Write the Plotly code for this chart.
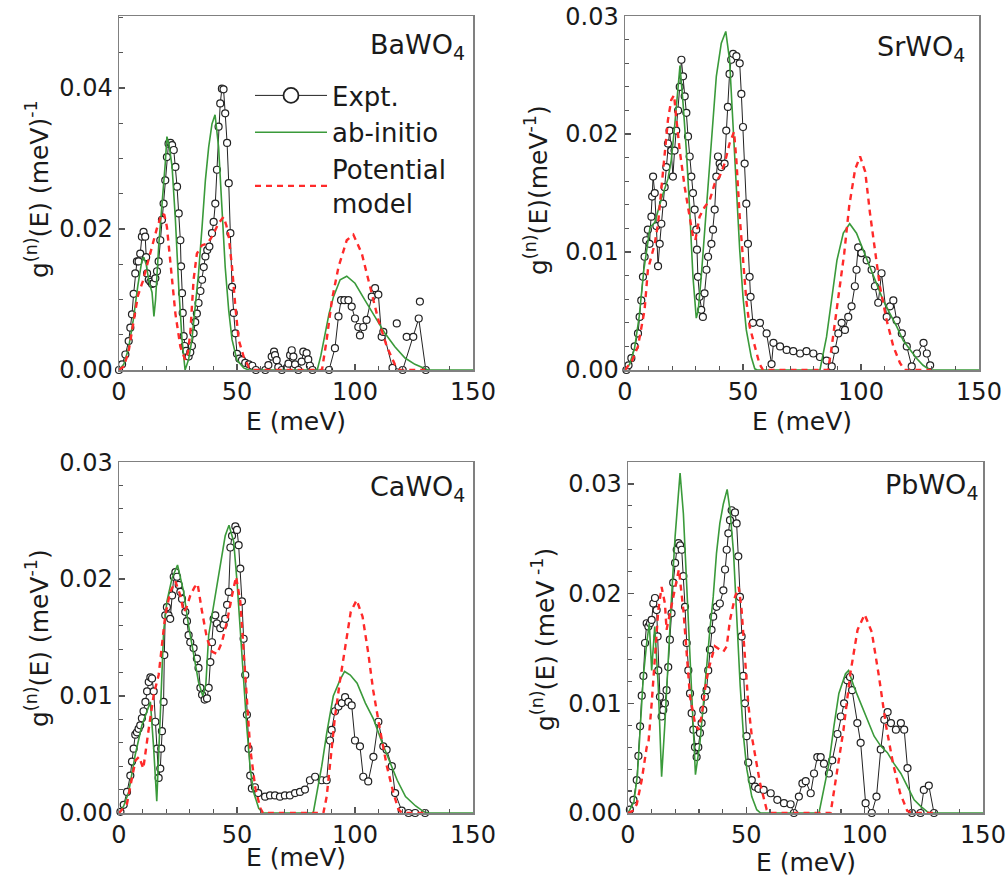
import plotly.graph_objects as go

# ---------------- data (E in meV, g in 1/meV) ----------------
ba_expt_E = [0, 1.3, 2.7, 4.1, 4.8, 5.5, 6.2, 6.9, 7.6, 8.3, 9.0, 9.7, 10.4, 11.1, 11.5, 11.9, 12.6, 13.3, 14.0, 14.7,
             15.4, 16.1, 16.8, 17.5, 18.2, 18.9, 19.6, 20.3, 21.0, 21.8, 22.5, 23.2, 23.9, 24.6, 25.3, 26.0, 26.3, 26.7,
             27.0, 27.4, 27.8, 28.4, 29.5, 30.2, 30.9, 31.6, 32.3, 33.0, 33.7, 34.5, 35.2, 35.9, 36.6, 37.4, 38.3, 39.4,
             40.1, 40.8, 41.5, 42.2, 42.9, 43.6, 44.3, 45.0, 45.8, 46.5, 47.2, 47.9, 48.6, 49.3, 50.0, 51.0, 52.1, 53.5,
             55.0, 56.5, 58, 62, 63.3, 64.7, 65.7, 66.1, 66.8, 67.5, 69, 71.1, 71.8, 72.5, 73.2, 73.9, 74.6, 76, 77.4,
             78.1, 79.5, 80.2, 80.9, 82, 89, 91.5, 93.0, 94.1, 95.5, 97.2, 98.6, 100.0, 101.4, 102.1, 103.5, 104.9,
             107.1, 108.5, 109.9, 111.3, 112.0, 115.9, 120.2, 127.0, 130.0]
ba_expt_g = [0, 0.0008, 0.0022, 0.0041, 0.0060, 0.0079, 0.0108, 0.0137, 0.0154, 0.0154, 0.0165, 0.0189, 0.0196, 0.0189,
             0.0160, 0.0137, 0.0128, 0.0125, 0.0122, 0.0123, 0.0130, 0.0140, 0.0154, 0.0184, 0.0213, 0.0236, 0.0269,
             0.0302, 0.0321, 0.0322, 0.0319, 0.0312, 0.0288, 0.0260, 0.0222, 0.0184, 0.0147, 0.0109, 0.0081, 0.0048,
             0.0034, 0.0027, 0.0019, 0.0025, 0.0034, 0.0052, 0.0068, 0.0080, 0.0095, 0.0112, 0.0128, 0.0146, 0.0161,
             0.0170, 0.0175, 0.0194, 0.0210, 0.0236, 0.0284, 0.0345, 0.0378, 0.0399, 0.0398, 0.0364, 0.0322, 0.0265,
             0.0194, 0.0118, 0.0081, 0.0052, 0.0023, 0.0016, 0.0014, 0.0010, 0.0008, 0.0006, 0, 0, 0.0007, 0.0019,
             0.0026, 0.0021, 0.0014, 0.0004, 0, 0.0003, 0.0009, 0.0021, 0.0028, 0.0019, 0.0008, 0, 0.0012, 0.0026,
             0.0024, 0.0015, 0.0006, 0, 0, 0.0031, 0.0076, 0.0099, 0.0099, 0.0099, 0.0090, 0.0073, 0.0061, 0.0049,
             0.0061, 0.0071, 0.0104, 0.0116, 0.0107, 0.0047, 0.0054, 0.0003, 0, 0.0073, 0]
ba_extra_E = [117.7, 121.9, 124.7, 127.5]
ba_extra_g = [0.0066, 0.0047, 0.0047, 0.0097]
ba_ab_E = [0, 2, 4, 6, 8, 9.7, 10.5, 11.5, 12.6, 14.0, 14.8, 15.5, 16.8, 18.2, 19.6, 20.3, 21.2, 22.5, 23.9, 25.3,
           26.7, 28.0, 29.5, 30.9, 32.3, 33.7, 35.2, 36.6, 38.0, 39.4, 40.7, 42.2, 43.6, 45.0, 46.5, 47.9, 50.0, 52.8,
           55, 84, 85.5, 87.3, 89, 90.9, 93.7, 96.5, 100, 104.2, 108.5, 112.7, 116.9, 121.2, 125.4, 129.7, 131, 150]
ba_ab_g = [0, 0.0008, 0.0030, 0.0070, 0.0120, 0.0155, 0.0160, 0.0150, 0.0127, 0.0110, 0.0076, 0.0100, 0.0175, 0.0231,
           0.0293, 0.0331, 0.0320, 0.0288, 0.0213, 0.0118, 0.0043, 0.0, 0.0015, 0.0043, 0.0090, 0.0137, 0.0203,
           0.0269, 0.0316, 0.0349, 0.0362, 0.0316, 0.0231, 0.0146, 0.0084, 0.0043, 0.0014, 0.0003, 0, 0, 0.0020,
           0.0052, 0.0080, 0.0104, 0.0128, 0.0133, 0.0123, 0.0099, 0.0076, 0.0052, 0.0033, 0.0017, 0.0008, 0.0001, 0, 0]
ba_pm_E = [0, 2, 4, 6, 8, 10, 12, 14, 16, 18.1, 19.2, 20.3, 21.8, 23.9, 26.0, 28.1, 29.2, 30.2, 31.6, 33.0, 35.2, 37.3,
           39.4, 42.2, 44.3, 45.5, 46.5, 47.9, 49.3, 50.7, 52.8, 55, 57, 86, 88, 90.2, 93, 96.5, 99.3, 102.9, 106.4,
           109.9, 113.5, 117, 119, 130]
ba_pm_g = [0, 0.0005, 0.0025, 0.0065, 0.0105, 0.0125, 0.0150, 0.0175, 0.0200, 0.0222, 0.0220, 0.0203, 0.0151, 0.0080,
           0.0033, 0.0014, 0.0025, 0.0052, 0.0128, 0.0165, 0.0177, 0.0179, 0.0189, 0.0208, 0.0217, 0.0205, 0.0189,
           0.0146, 0.0090, 0.0043, 0.0019, 0.0004, 0, 0, 0.0043, 0.0099, 0.0146, 0.0184, 0.0192, 0.0165, 0.0118,
           0.0071, 0.0033, 0.0007, 0, 0]

sr_expt_E = [0.6, 1.5, 2.7, 4.1, 5.5, 6.2, 6.9, 7.6, 8.3, 9.0, 9.7, 10.4, 11.2, 11.5, 11.9, 12.6, 13.3, 14.0, 14.7, 15.4,
             16.1, 16.8, 17.5, 18.2, 18.9, 19.6, 20.3, 21.0, 21.7, 22.5, 23.2, 23.9, 24.6, 25.3, 26.0, 26.7, 27.4, 28.1,
             28.8, 29.5, 30.2, 30.5, 30.9, 31.6, 32.3, 33.0, 33.7, 34.5, 35.2, 36.6, 37.3, 38.0, 38.7, 39.4, 40.1, 40.8,
             42.2, 42.9, 43.6, 44.3, 45.0, 45.8, 47.2, 48.6, 49.3, 50.0, 50.7, 51.4, 52.1, 52.8, 53.2, 54.2, 57.2, 60.0,
             62.1, 62.9, 65.7, 68.5, 71.3, 74.2, 76.9, 79.8, 82.6, 85.4, 87.6, 89.0, 90.4, 91.8, 93.2, 94.6, 96.0, 97.4,
             98.1, 98.8, 100.2, 102.4, 104.5, 105.9, 107.3, 108.7, 110.9, 112.3, 113.7, 115.1, 117.3, 119.4, 121.5,
             123.7, 126.5, 127.9, 129.3]
sr_expt_g = [0, 0.0004, 0.0010, 0.0020, 0.0031, 0.0045, 0.0059, 0.0079, 0.0096, 0.0110, 0.0119, 0.0107, 0.0130, 0.0147,
             0.0164, 0.0150, 0.0122, 0.0088, 0.0107, 0.0124, 0.0141, 0.0155, 0.0172, 0.0192, 0.0203, 0.0186, 0.0164,
             0.0186, 0.0203, 0.0220, 0.0240, 0.0263, 0.0249, 0.0232, 0.0218, 0.0198, 0.0181, 0.0164, 0.0150, 0.0136,
             0.0119, 0.0102, 0.0079, 0.0062, 0.0051, 0.0045, 0.0065, 0.0085, 0.0096, 0.0107, 0.0119, 0.0136, 0.0164,
             0.0181, 0.0175, 0.0172, 0.0175, 0.0203, 0.0223, 0.0251, 0.0263, 0.0268, 0.0266, 0.0260, 0.0234, 0.0206,
             0.0175, 0.0141, 0.0107, 0.0079, 0.0062, 0.0040, 0.0040, 0.0031, 0.0005, 0.0023, 0.0020, 0.0017, 0.0016,
             0.0014, 0.0016, 0.0014, 0.0011, 0.0008, 0.0003, 0.0017, 0.0031, 0.0040, 0.0034, 0.0045, 0.0054, 0.0071,
             0.0085, 0.0104, 0.0099, 0.0093, 0.0085, 0.0071, 0.0057, 0.0082, 0.0045, 0.0054, 0.0059, 0.0042, 0.0031,
             0.0020, 0.0003, 0.0014, 0.0023, 0.0014, 0.0004]
sr_ab_E = [0, 2, 4, 6, 8, 10.6, 12.6, 15.4, 18.2, 19.6, 21.0, 22.5, 23.3, 24.6, 26.0, 27.4, 28.8, 30.2, 31.0, 32.3, 34.5,
           36.6, 38.7, 40.8, 42.7, 44.3, 45.8, 47.2, 48.6, 50.0, 51.4, 53.5, 55.0, 56, 82.6, 85.4, 87.6, 89.8, 92.5,
           95.2, 98.1, 100.9, 103.7, 106.6, 109.4, 112.2, 115.1, 117.9, 120.7, 123.5, 126.3, 129.2, 150]
sr_ab_g = [0, 0.0005, 0.0018, 0.0045, 0.0085, 0.0121, 0.0125, 0.0145, 0.0162, 0.0178, 0.0206, 0.0240, 0.0258, 0.0226,
           0.0186, 0.0136, 0.0079, 0.0044, 0.0050, 0.0079, 0.0136, 0.0198, 0.0249, 0.0277, 0.0287, 0.0263, 0.0206,
           0.0150, 0.0102, 0.0062, 0.0034, 0.0011, 0.0001, 0, 0, 0.0028, 0.0062, 0.0093, 0.0116, 0.0124, 0.0116,
           0.0102, 0.0088, 0.0074, 0.0059, 0.0048, 0.0037, 0.0025, 0.0017, 0.0010, 0.0004, 0, 0]
sr_pm_E = [0, 3, 5.5, 8.3, 9.7, 11.1, 12.6, 14.0, 15.4, 16.8, 18.2, 19.6, 20.8, 21.7, 23.2, 25.3, 27.4, 28.8, 29.8, 31.6,
           33.7, 35.9, 38.0, 40.1, 42.2, 44.3, 46.2, 47.2, 48.6, 50.0, 51.4, 52.8, 55.0, 57.0, 58.5, 86, 87.2, 90.0,
           92.9, 95.0, 97.5, 99.6, 101.8, 103.8, 105.9, 108.0, 110.9, 113.7, 116.5, 118.5, 130]
sr_pm_g = [0, 0.0008, 0.0020, 0.0051, 0.0085, 0.0096, 0.0107, 0.0124, 0.0153, 0.0186, 0.0212, 0.0229, 0.0233, 0.0214,
           0.0186, 0.0155, 0.0130, 0.0113, 0.0110, 0.0130, 0.0138, 0.0144, 0.0158, 0.0164, 0.0175, 0.0192, 0.0202,
           0.0178, 0.0130, 0.0090, 0.0059, 0.0037, 0.0020, 0.0005, 0, 0, 0.0014, 0.0054, 0.0099, 0.0139, 0.0170,
           0.0181, 0.0168, 0.0133, 0.0102, 0.0071, 0.0042, 0.0020, 0.0006, 0, 0]

ca_expt_E = [0.6, 2.0, 3.4, 4.8, 5.5, 6.2, 6.9, 7.6, 8.3, 9.0, 9.7, 10.4, 11.2, 11.9, 12.6, 13.3, 14.0, 14.7, 15.4, 16.1,
             16.8, 17.5, 17.9, 18.2, 18.9, 19.2, 19.6, 20.3, 21.0, 21.7, 22.5, 23.2, 23.9, 24.6, 25.3, 26.0, 26.7, 28.1,
             28.8, 29.5, 30.2, 31.6, 33.0, 33.7, 34.5, 35.2, 36.3, 37.3, 38.0, 38.7, 39.4, 40.1, 40.8, 41.5, 42.9, 44.3,
             45.0, 45.8, 46.5, 47.2, 47.9, 49.3, 50.0, 50.7, 51.4, 52.1, 52.8, 53.5, 54.2, 54.9, 55.6, 56.3, 57.6, 59.0,
             61.9, 64, 66.1, 68.2, 70.3, 72.4, 74.6, 76.7, 78.8, 80.9, 83.1, 85.9, 88.0, 89.4, 90.1, 91.5, 93.0, 94.4,
             95.8, 97.2, 98.6, 100.0, 102.1, 103.5, 105.6, 107.8, 109.9, 112.0, 113.4, 115.6, 117.0, 119.8, 122.7,
             125.5, 129.7]
ca_expt_g = [0.0001, 0.0007, 0.0018, 0.0032, 0.0044, 0.0055, 0.0067, 0.0069, 0.0072, 0.0075, 0.0081, 0.0087, 0.0095,
             0.0104, 0.0112, 0.0116, 0.0115, 0.0104, 0.0078, 0.0055, 0.0030, 0.0038, 0.0055, 0.0070, 0.0095, 0.0135,
             0.0169, 0.0176, 0.0169, 0.0166, 0.0186, 0.0202, 0.0206, 0.0202, 0.0195, 0.0189, 0.0183, 0.0172, 0.0164,
             0.0152, 0.0146, 0.0141, 0.0132, 0.0124, 0.0107, 0.0101, 0.0097, 0.0098, 0.0107, 0.0129, 0.0146, 0.0166,
             0.0169, 0.0162, 0.0158, 0.0161, 0.0166, 0.0178, 0.0189, 0.0227, 0.0237, 0.0245, 0.0242, 0.0229, 0.0209,
             0.0181, 0.0149, 0.0118, 0.0084, 0.0055, 0.0032, 0.0021, 0.0022, 0.0017, 0.0014, 0.0015, 0.0015, 0.0014,
             0.0015, 0.0015, 0.0017, 0.0018, 0.0020, 0.0028, 0.0031, 0.0028, 0.0028, 0.0062, 0.0071, 0.0087, 0.0091,
             0.0094, 0.0099, 0.0095, 0.0092, 0.0062, 0.0057, 0.0031, 0.0027, 0.0048, 0.0078, 0.0057, 0.0054, 0.0040,
             0.0017, 0.0002, 0, 0, 0]
ca_ab_E = [0, 2, 4.1, 6.9, 9.7, 11.9, 13.3, 14.7, 16.0, 17.5, 18.9, 20.3, 22.5, 24.8, 27.4, 29.5, 31.6, 33.7, 35.5, 36.8,
           38.0, 39.4, 40.8, 42.9, 45.0, 46.6, 48.6, 50.0, 51.4, 52.8, 54.2, 55.6, 57.0, 59.2, 61, 82.3, 85.9, 88.0,
           90.8, 93.7, 95.6, 98.0, 100.9, 104.4, 107.9, 111.5, 115.0, 117.9, 121.4, 125.7, 129.2, 131, 150]
ca_ab_g = [0, 0.0006, 0.0018, 0.0050, 0.0075, 0.0087, 0.0095, 0.0055, 0.0010, 0.0084, 0.0155, 0.0181, 0.0201, 0.0212,
           0.0189, 0.0160, 0.0135, 0.0112, 0.0100, 0.0110, 0.0152, 0.0169, 0.0186, 0.0215, 0.0237, 0.0246, 0.0232,
           0.0198, 0.0155, 0.0112, 0.0072, 0.0038, 0.0018, 0.0004, 0, 0, 0.0040, 0.0068, 0.0100, 0.0114, 0.0121,
           0.0118, 0.0111, 0.0094, 0.0080, 0.0060, 0.0043, 0.0028, 0.0014, 0.0006, 0.0001, 0, 0]
ca_pm_E = [0, 3.4, 5.5, 7.0, 8.5, 10.3, 12.6, 14.7, 16.8, 18.2, 19.6, 21.7, 23.9, 26.0, 27.4, 28.5, 30.2, 32.0, 33.3,
           35.2, 37.3, 39.4, 41.5, 43.6, 45.8, 47.9, 49.6, 51.4, 52.8, 54.2, 55.6, 57.8, 59.9, 61, 86.6, 88.0, 89.4,
           91.5, 93.7, 95.8, 98.2, 100.7, 103.2, 105.6, 107.7, 110.6, 113.5, 116.3, 118.4, 120, 130]
ca_pm_g = [0, 0.0008, 0.0030, 0.0045, 0.0048, 0.0038, 0.0072, 0.0101, 0.0118, 0.0141, 0.0169, 0.0189, 0.0198, 0.0186,
           0.0172, 0.0175, 0.0186, 0.0193, 0.0196, 0.0172, 0.0149, 0.0138, 0.0136, 0.0146, 0.0164, 0.0186, 0.0202,
           0.0181, 0.0141, 0.0095, 0.0055, 0.0021, 0.0004, 0, 0, 0.0014, 0.0040, 0.0082, 0.0114, 0.0142, 0.0172,
           0.0182, 0.0168, 0.0137, 0.0105, 0.0071, 0.0040, 0.0017, 0.0003, 0, 0]

pb_expt_E = [0.8, 2.3, 3.7, 4.4, 5.1, 5.8, 6.5, 7.2, 7.9, 8.6, 9.3, 10.0, 10.7, 11.4, 12.1, 12.5, 12.8, 13.5, 14.2, 14.9,
             15.6, 16.3, 17.0, 17.7, 18.4, 19.1, 19.9, 20.6, 21.3, 22.0, 22.7, 23.4, 24.1, 24.8, 25.5, 26.2, 26.9, 27.6,
             28.3, 29.0, 29.7, 30.4, 31.1, 31.8, 32.5, 33.2, 33.9, 34.6, 35.3, 36.0, 37.4, 38.8, 40.3, 41.0, 41.7, 42.4,
             43.1, 43.8, 45.2, 45.9, 46.6, 47.3, 48.0, 48.7, 49.4, 50.1, 50.8, 52.3, 53.7, 55.1, 57.3, 60.3, 63.1, 65.9,
             68.7, 70.1, 72.2, 73.7, 75.1, 77.2, 78.6, 80.0, 81.4, 82.8, 84.9, 86.3, 88.5, 89.9, 91.3, 92.6, 93.8, 94.7,
             96.9, 98.3, 100.4, 103.0, 105.0, 106.8, 108.3, 109.7, 111.1, 113.2, 115.3, 116.7, 118.1, 120.0, 123.6,
             125.0, 127.1, 129.3]
pb_expt_g = [0.0003, 0.0012, 0.0030, 0.0052, 0.0079, 0.0107, 0.0125, 0.0155, 0.0173, 0.0170, 0.0173, 0.0176, 0.0191,
             0.0196, 0.0185, 0.0161, 0.0130, 0.0106, 0.0088, 0.0094, 0.0100, 0.0112, 0.0133, 0.0158, 0.0182, 0.0210,
             0.0228, 0.0240, 0.0246, 0.0244, 0.0240, 0.0216, 0.0188, 0.0155, 0.0130, 0.0109, 0.0091, 0.0076, 0.0060,
             0.0051, 0.0060, 0.0073, 0.0082, 0.0094, 0.0106, 0.0112, 0.0130, 0.0149, 0.0167, 0.0179, 0.0188, 0.0191,
             0.0203, 0.0222, 0.0240, 0.0255, 0.0267, 0.0276, 0.0274, 0.0264, 0.0234, 0.0197, 0.0161, 0.0125, 0.0100,
             0.0070, 0.0046, 0.0030, 0.0024, 0.0022, 0.0021, 0.0018, 0.0012, 0.0009, 0.0008, 0, 0.0015, 0.0027,
             0.0029, 0.0018, 0.0036, 0.0051, 0.0051, 0.0045, 0.0036, 0.0048, 0.0072, 0.0088, 0.0100, 0.0121, 0.0124,
             0.0112, 0.0082, 0.0064, 0.0009, 0, 0.0015, 0.0058, 0.0085, 0.0092, 0.0082, 0.0076, 0.0082, 0.0076,
             0.0041, 0, 0, 0.0021, 0.0025, 0]
pb_ab_E = [0, 2.5, 4, 5.1, 6.5, 7.9, 9.0, 10.0, 11.3, 12.8, 14.2, 15.6, 17.0, 18.4, 19.9, 21.3, 22.0, 23.4, 24.8, 26.2,
           27.6, 28.5, 30.4, 31.8, 33.2, 34.6, 36.0, 37.4, 38.8, 40.3, 41.9, 43.1, 44.6, 46.0, 47.4, 48.8, 50.2, 52.3,
           54.4, 56, 80.7, 83.5, 84.9, 87.0, 89.1, 91.9, 93.2, 95.5, 98.3, 101.1, 104.0, 106.8, 109.6, 112.4, 115.3,
           118.1, 120.9, 123.7, 126.5, 128, 150]
pb_ab_g = [0, 0.0010, 0.0035, 0.0075, 0.0125, 0.0155, 0.0173, 0.0130, 0.0170, 0.0115, 0.0033, 0.0082, 0.0143, 0.0197,
           0.0252, 0.0294, 0.0310, 0.0273, 0.0206, 0.0146, 0.0076, 0.0035, 0.0064, 0.0100, 0.0130, 0.0167, 0.0197,
           0.0237, 0.0264, 0.0282, 0.0295, 0.0276, 0.0237, 0.0176, 0.0116, 0.0070, 0.0040, 0.0015, 0.0003, 0, 0,
           0.0030, 0.0045, 0.0079, 0.0109, 0.0127, 0.0130, 0.0115, 0.0100, 0.0085, 0.0070, 0.0061, 0.0055, 0.0045,
           0.0036, 0.0024, 0.0012, 0.0006, 0.0001, 0, 0]
pb_pm_E = [0, 2, 3.7, 5.8, 7.9, 8.6, 10.0, 11.4, 12.8, 14.2, 15.6, 16.3, 17.7, 19.9, 21.5, 23.4, 24.8, 26.2, 28.3, 29.7,
           31.1, 32.5, 33.9, 35.3, 36.7, 38.8, 40.3, 41.7, 43.1, 45.2, 46.8, 48.0, 49.4, 50.8, 52.3, 53.7, 55.8, 58.6,
           60, 85.6, 88.0, 91.0, 94.0, 97.0, 100.0, 103.0, 106.0, 109.0, 112.0, 115.0, 118.0, 120, 130]
pb_pm_g = [0, 0.0002, 0.0008, 0.0030, 0.0060, 0.0063, 0.0100, 0.0146, 0.0185, 0.0206, 0.0191, 0.0167, 0.0182, 0.0206,
           0.0222, 0.0185, 0.0142, 0.0106, 0.0082, 0.0076, 0.0088, 0.0112, 0.0130, 0.0142, 0.0152, 0.0149, 0.0147,
           0.0152, 0.0176, 0.0197, 0.0206, 0.0185, 0.0142, 0.0100, 0.0070, 0.0052, 0.0027, 0.0003, 0, 0, 0.0035,
           0.0075, 0.0128, 0.0167, 0.0181, 0.0165, 0.0125, 0.0080, 0.0045, 0.0018, 0.0002, 0, 0]

panel_names = ["BaWO<sub>4</sub>", "SrWO<sub>4</sub>", "CaWO<sub>4</sub>", "PbWO<sub>4</sub>"]
y_titles = ["g<sup>(n)</sup>(E) (meV)<sup>-1</sup>", "g<sup>(n)</sup>(E)(meV<sup>-1</sup>)",
            "g<sup>(n)</sup>(E) (meV<sup>-1</sup>)", "g<sup>(n)</sup>(E) (meV<sup> -1</sup>)"]
x_title = "E (meV)"
legend_names = ["Expt.", "ab-initio", "Potential<br>model"]

# ---------------- styling / layout ----------------
W, H = 1006, 890
FONT = "DejaVu Sans"
TXT = "#1a1a1a"
GREEN = "#3a9a3a"
RED = "#ff2a2a"
EXPT = "#222222"


def px(xp):
    return xp / W


def py(yp):
    return 1 - yp / H


# panel boxes in page pixels: left, right, top, bottom
boxes = [(119, 473, 16, 370), (625, 979, 16, 370), (119, 473, 462, 813), (628, 983, 462, 813)]
y_ranges = [[0, 0.0502], [0, 0.03001], [0, 0.03001], [0, 0.0320]]
y_dticks = [0.02, 0.01, 0.01, 0.01]
y_minor = [0.005, 0.002, 0.002, 0.002]

data = [
    (ba_expt_E, ba_expt_g, ba_ab_E, ba_ab_g, ba_pm_E, ba_pm_g),
    (sr_expt_E, sr_expt_g, sr_ab_E, sr_ab_g, sr_pm_E, sr_pm_g),
    (ca_expt_E, ca_expt_g, ca_ab_E, ca_ab_g, ca_pm_E, ca_pm_g),
    (pb_expt_E, pb_expt_g, pb_ab_E, pb_ab_g, pb_pm_E, pb_pm_g),
]

fig = go.Figure()
marker = dict(symbol="circle", size=7, color="white", line=dict(color=EXPT, width=1.2))
exp_line = dict(color=EXPT, width=1)
ab_line = dict(color=GREEN, width=1.6)
pm_line = dict(color=RED, width=2.4, dash="6px,5px")

for i, (eE, eg, aE, ag, pE, pg) in enumerate(data):
    xa = "x" if i == 0 else f"x{i+1}"
    ya = "y" if i == 0 else f"y{i+1}"
    fig.add_trace(go.Scatter(x=eE, y=eg, mode="lines+markers", xaxis=xa, yaxis=ya,
                             line=exp_line, marker=marker, showlegend=False, cliponaxis=False))
    if i == 0:
        fig.add_trace(go.Scatter(x=ba_extra_E, y=ba_extra_g, mode="markers", xaxis=xa, yaxis=ya,
                                 marker=marker, showlegend=False, cliponaxis=False))
    fig.add_trace(go.Scatter(x=aE, y=ag, mode="lines", xaxis=xa, yaxis=ya,
                             line=ab_line, showlegend=False, cliponaxis=False))
    fig.add_trace(go.Scatter(x=pE, y=pg, mode="lines", xaxis=xa, yaxis=ya,
                             line=pm_line, showlegend=False, cliponaxis=False))

# legend keys (no data of their own; they only carry the legend symbols)
fig.add_trace(go.Scatter(x=[None], y=[None], mode="lines+markers", name=legend_names[0], line=exp_line,
                         marker=dict(symbol="circle", size=15, color="white", line=dict(color=EXPT, width=1.8))))
fig.add_trace(go.Scatter(x=[None], y=[None], mode="lines", name=legend_names[1], line=ab_line))
fig.add_trace(go.Scatter(x=[None], y=[None], mode="lines", name=legend_names[2], line=pm_line))

layout = dict(width=W, height=H, margin=dict(l=0, r=0, t=0, b=0, pad=0, autoexpand=False),
              paper_bgcolor="white", plot_bgcolor="white",
              font=dict(family=FONT, color=TXT, size=24),
              showlegend=True, hovermode=False,
              legend=dict(x=px(250), y=py(72), xanchor="left", yanchor="top",
                          bgcolor="rgba(0,0,0,0)", font=dict(family=FONT, size=26, color=TXT),
                          itemwidth=72, tracegroupgap=0, itemsizing="trace"))
annotations = []
for i, (l, r, t, b) in enumerate(boxes):
    sx = "" if i == 0 else str(i + 1)
    axis_common = dict(showline=True, linecolor="#808080", linewidth=1.5, mirror=True,
                       ticks="inside", ticklen=6, tickwidth=1.2, tickcolor="#555555",
                       showgrid=False, zeroline=False, automargin=False,
                       tickfont=dict(family=FONT, size=24, color=TXT))
    layout["xaxis" + sx] = dict(axis_common, domain=[px(l), px(r)], range=[0, 150], dtick=50, tick0=0,
                                anchor="y" + sx,
                                minor=dict(dtick=10, ticks="inside", ticklen=4, tickcolor="#555555"))
    layout["yaxis" + sx] = dict(axis_common, domain=[py(b), py(t)], range=y_ranges[i],
                                dtick=y_dticks[i], tick0=0, tickformat=".2f", anchor="x" + sx,
                                minor=dict(dtick=y_minor[i], ticks="inside", ticklen=4, tickcolor="#555555"))

# text positions (page pixels)
xt_pos = [(296, 421), (802, 421), (296, 857), (806, 862)]
yt_pos = [(37, 189), (537, 190), (37, 638), (543, 640)]
lab_pos = [(467, 47), (967, 49), (467, 489), (980, 486)]
for i in range(4):
    annotations.append(dict(text=x_title, x=px(xt_pos[i][0]), y=py(xt_pos[i][1]), xref="paper", yref="paper",
                            showarrow=False, xanchor="center", yanchor="middle",
                            font=dict(family=FONT, size=25, color=TXT)))
    annotations.append(dict(text=y_titles[i], x=px(yt_pos[i][0]), y=py(yt_pos[i][1]), xref="paper",
                            yref="paper", showarrow=False, textangle=-90, xanchor="center", yanchor="middle",
                            font=dict(family=FONT, size=25, color=TXT)))
    annotations.append(dict(text=panel_names[i], x=px(lab_pos[i][0]), y=py(lab_pos[i][1]), xref="paper",
                            yref="paper", showarrow=False, xanchor="right", yanchor="middle",
                            font=dict(family=FONT, size=27, color=TXT)))
layout["annotations"] = annotations
fig.update_layout(**layout)
# the page's default 8 px body margin would shift the figure; remove it
fig.write_html("out.html", config={"displayModeBar": False, "staticPlot": True},
               post_script="document.body.style.margin='0px';document.body.style.overflow='hidden';")
